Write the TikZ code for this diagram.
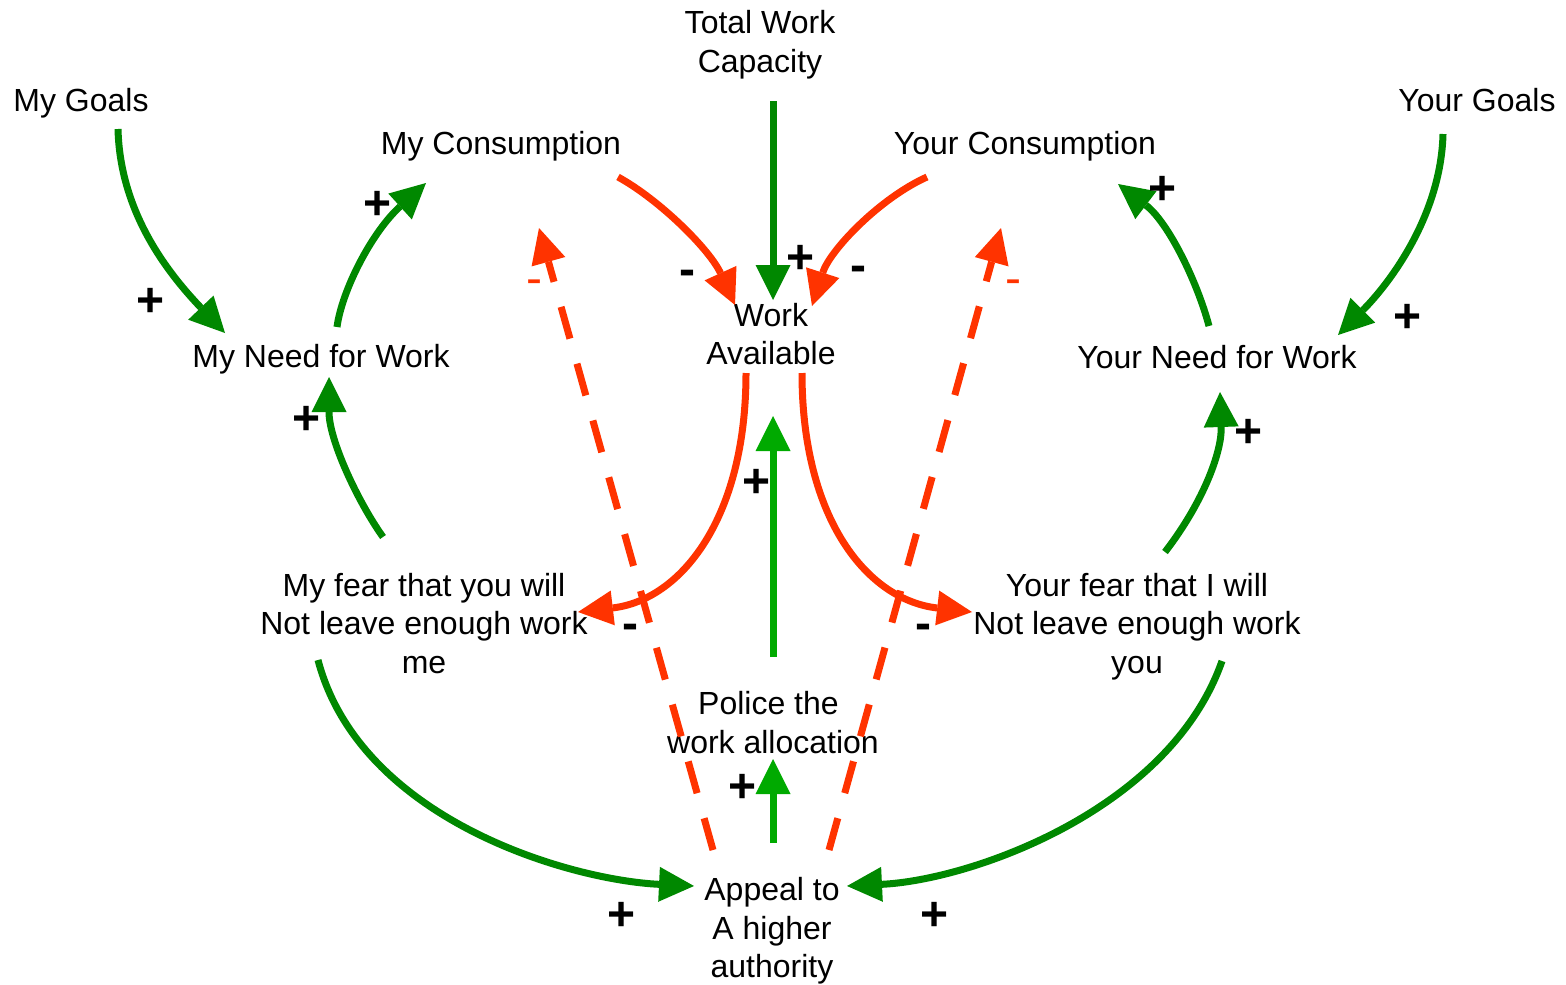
\documentclass[tikz,border=0pt]{standalone}
\usepackage{fontspec}
\setmainfont{Liberation Sans}
\usetikzlibrary{arrows.meta}
\definecolor{loopgreen}{RGB}{0,136,0}
\definecolor{policegreen}{RGB}{0,170,0}
\definecolor{loopred}{RGB}{255,51,0}

\begin{document}
\begin{tikzpicture}[x=1pt,y=-1pt,
  var/.style={align=center, inner sep=0pt, font=\fontsize{32}{38.5}\selectfont},
  link/.style={line width=7pt, -{Triangle[length=35pt 0 0,width=35pt 0 0,line width=0pt]}},
  gainlink/.style={link, draw=loopgreen},
  centrallink/.style={link, draw=policegreen},
  losslink/.style={link, draw=loopred},
  dashlink/.style={losslink, dash pattern=on 33pt off 26pt},
  plussign/.style={anchor=base, inner sep=0pt, yshift=-17.5pt, font=\fontsize{48}{48}\selectfont\bfseries},
  minussign/.style={anchor=base, inner sep=0pt, yshift=-12pt, font=\fontsize{48}{48}\selectfont\bfseries},
  redminus/.style={anchor=base, inner sep=0pt, yshift=-11.5pt, text=loopred, font=\fontsize{48}{48}\selectfont}
]
\useasboundingbox (0,0) rectangle (1566,985);

% variables of the causal loop
\node[var] (capacity)  at (760,44.5)  {Total Work\\Capacity};
\node[var] (mygoals)   at (81,103)    {My Goals};
\node[var] (yourgoals) at (1477,100.5){Your Goals};
\node[var] (mycons)    at (501,146.7) {My Consumption};
\node[var] (yourcons)  at (1025,146.7){Your Consumption};
\node[var] (work)      at (771,334.3) {Work\\Available};
\node[var] (myneed)    at (321,359)   {My Need for Work};
\node[var] (yourneed)  at (1217,357)  {Your Need for Work};
\node[var] (myfear)    at (424,623.3) {My fear that you will\\Not leave enough work\\me};
\node[var] (yourfear)  at (1137,626.7){Your fear that I will\\Not leave enough work\\you};
\node[var] (police)    at (773,722.8) {Police the\hspace*{9pt}\\work allocation};
\node[var] (appeal)    at (772,931)   {Appeal to\\A higher\\authority};

% free ends of the links
\coordinate (mygoals-o)   at (118,129);
\coordinate (myneed-i1)   at (225,333);
\coordinate (myneed-o)    at (337,327);
\coordinate (mycons-i)    at (426,183);
\coordinate (yourneed-o)  at (1209,326);
\coordinate (yourcons-i)  at (1118,184);
\coordinate (yourgoals-o) at (1443,134);
\coordinate (yourneed-i1) at (1338,335);
\coordinate (myfear-o1)   at (383,537);
\coordinate (myneed-i2)   at (329,377);
\coordinate (yourfear-o1) at (1165,552);
\coordinate (yourneed-i2) at (1220,392);
\coordinate (myfear-o2)   at (318,660);
\coordinate (appeal-i1)   at (694,886);
\coordinate (yourfear-o2) at (1222,661);
\coordinate (appeal-i2)   at (847,886);
\coordinate (capacity-o)  at (773,101);
\coordinate (work-i1)     at (773,300);
\coordinate (mycons-o)    at (618,177);
\coordinate (work-i2)     at (735,305);
\coordinate (yourcons-o)  at (927,177);
\coordinate (work-i3)     at (812,306);
\coordinate (work-o1)     at (746,373);
\coordinate (myfear-i)    at (578,612);
\coordinate (work-o2)     at (802,373);
\coordinate (yourfear-i)  at (972,612);
\coordinate (police-o)    at (773,657);
\coordinate (work-i4)     at (773,416);
\coordinate (appeal-o1)   at (773,843);
\coordinate (police-i)    at (773,759);
\coordinate (appeal-o2)   at (713,850);
\coordinate (mycons-i2)   at (539,228);
\coordinate (appeal-o3)   at (829,850);
\coordinate (yourcons-i2) at (1001,228);

% reinforcing links (green)
\draw[gainlink] (mygoals-o) .. controls (120,210) and (165,270) .. (myneed-i1);
\draw[gainlink] (myneed-o) .. controls (342,290) and (372,232) .. (mycons-i);
\draw[gainlink] (yourneed-o) .. controls (1197,281) and (1168,222) .. (yourcons-i);
\draw[gainlink] (yourgoals-o) .. controls (1441,215) and (1390,283) .. (yourneed-i1);
\draw[gainlink] (myfear-o1) .. controls (358,502) and (329,440) .. (myneed-i2);
\draw[gainlink] (yourfear-o1) .. controls (1205,500) and (1222,450) .. (yourneed-i2);
\draw[gainlink] (myfear-o2) .. controls (360,820) and (570,880) .. (appeal-i1);
\draw[gainlink] (yourfear-o2) .. controls (1170,810) and (971,880) .. (appeal-i2);
\draw[gainlink] (capacity-o) -- (work-i1);

% balancing links (red)
\draw[losslink] (mycons-o) .. controls (660,200) and (710,250) .. (work-i2);
\draw[losslink] (yourcons-o) .. controls (880,198) and (830,250) .. (work-i3);
\draw[losslink] (work-o1) .. controls (746,520) and (680,600) .. (myfear-i);
\draw[losslink] (work-o2) .. controls (802,520) and (868,600) .. (yourfear-i);

% policing links
\draw[centrallink] (police-o) -- (work-i4);
\draw[centrallink] (appeal-o1) -- (police-i);
\draw[dashlink] (appeal-o2) -- (mycons-i2);
\draw[dashlink] (appeal-o3) -- (yourcons-i2);

% polarities
\node[plussign] (p1)  at (151,299)  {+};
\node[plussign] (p2)  at (378,202)  {+};
\node[plussign] (p3)  at (1163,187) {+};
\node[plussign] (p4)  at (1407,315) {+};
\node[plussign] (p5)  at (307,417)  {+};
\node[plussign] (p6)  at (1249,430) {+};
\node[plussign] (p7)  at (801,256)  {+};
\node[plussign] (p8)  at (757,480)  {+};
\node[plussign] (p9)  at (743,785)  {+};
\node[plussign] (p10) at (622,913)  {+};
\node[plussign] (p11) at (935,913)  {+};
\node[minussign] (m1) at (687,273)  {-};
\node[minussign] (m2) at (858,269)  {-};
\node[minussign] (m3) at (630,627)  {-};
\node[minussign] (m4) at (923,627)  {-};
\node[redminus] (r1)  at (534,283)  {-};
\node[redminus] (r2)  at (1013,283) {-};
\end{tikzpicture}
\end{document}
